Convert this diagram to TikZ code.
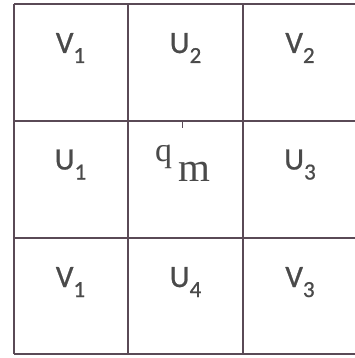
\documentclass[tikz,border=0pt]{standalone}
\usepackage{fontspec}
\setmainfont{Carlito}
\newfontfamily\labfont[FakeBold=0.8]{Carlito}
\newfontfamily\qfont{Liberation Serif}
\definecolor{gridc}{HTML}{5A4A56}
\definecolor{txtc}{HTML}{4A4A4A}
\tikzset{
  gridline/.style={draw=gridc, line width=2pt},
  lab/.style={anchor=base, text=txtc, inner sep=0pt, font=\labfont\fontsize{31}{31}\selectfont},
}
\newcommand{\lbl}[2]{#1\raisebox{-10pt}{\fontsize{23}{23}\selectfont #2}}
\begin{document}
\begin{tikzpicture}[x=1pt,y=-1pt]
\useasboundingbox (0,0) rectangle (355,358);
\fill[white] (0,0) rectangle (355,358);
% grid
\draw[gridline] (14,4) -- (360,4);
\draw[gridline] (14,120.7) -- (360,120.7);
\draw[gridline] (14,238.3) -- (360,238.3);
\draw[gridline] (14,354) -- (360,354);
\draw[gridline] (14,4) -- (14,354);
\draw[gridline] (127.7,4) -- (127.7,354);
\draw[gridline] (243.3,4) -- (243.3,354);
% labels
\node[lab] (a11) at (70.5,53) {\lbl{V}{1}};
\node[lab] (a12) at (185.5,53) {\lbl{U}{2}};
\node[lab] (a13) at (300,53) {\lbl{V}{2}};
\node[lab] (a21) at (70.5,169.5) {\lbl{U}{1}};
\node[lab] (a23) at (300,169.5) {\lbl{U}{3}};
\node[lab] (a31) at (70.5,287) {\lbl{V}{1}};
\node[lab] (a32) at (185.5,287) {\lbl{U}{4}};
\node[lab] (a33) at (300,287) {\lbl{V}{3}};
% q_m
\node[anchor=base west, inner sep=0pt, text=txtc, font=\qfont\fontsize{34}{34}\selectfont] (q) at (155,161) {q};
\node[anchor=base west, inner sep=0pt, text=txtc, font=\qfont\fontsize{41}{41}\selectfont] (m) at (178.5,181.7) {m};
\draw[draw=gridc, line width=1pt] (182,121) -- (182,128);
\end{tikzpicture}
\end{document}
